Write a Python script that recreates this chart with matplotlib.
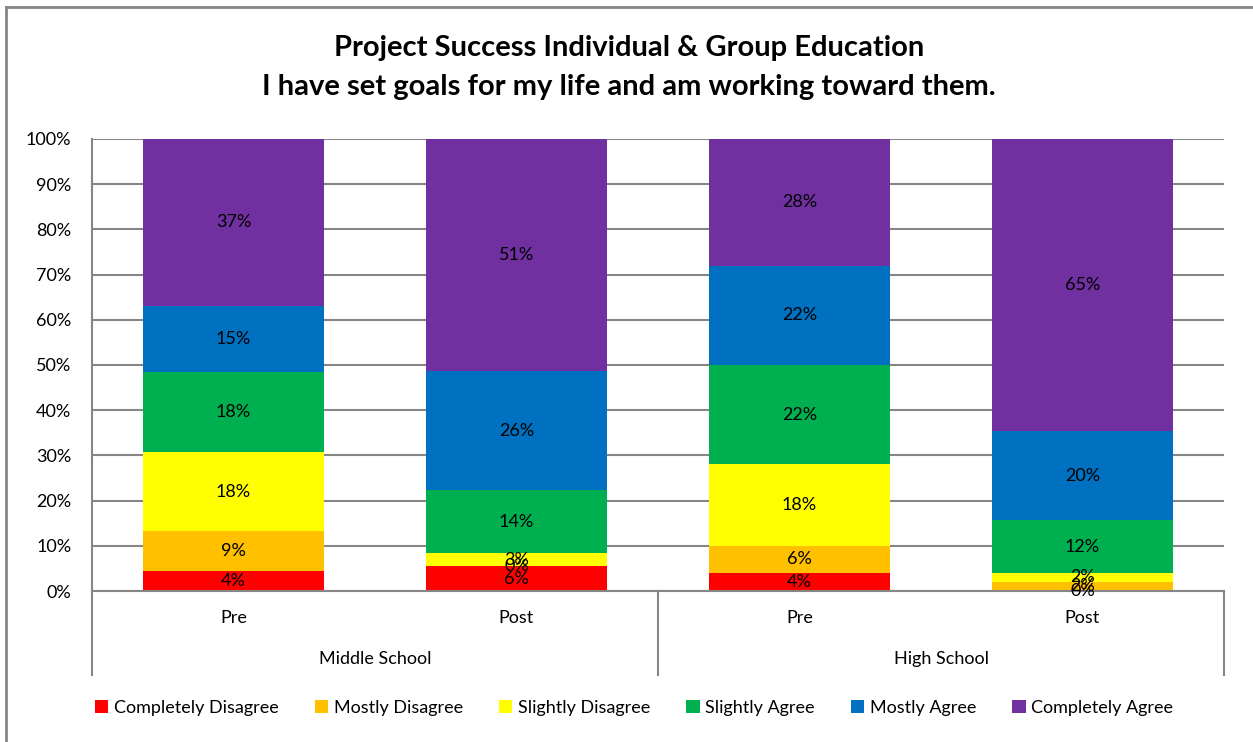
import matplotlib
matplotlib.use("Agg")
import matplotlib.pyplot as plt
from matplotlib.lines import Line2D
from matplotlib.transforms import blended_transform_factory

plt.rcParams['font.family'] = ['Lato', 'DejaVu Sans']

# Survey results (% of respondents) per group / time point
groups = ["Middle School", "High School"]
timepoints = ["Pre", "Post", "Pre", "Post"]
series_names = ["Completely Disagree", "Mostly Disagree", "Slightly Disagree",
                "Slightly Agree", "Mostly Agree", "Completely Agree"]
completely_disagree = [4.4, 5.5, 4.0, 0.0]
mostly_disagree = [8.8, 0.0, 6.0, 2.0]
slightly_disagree = [17.6, 2.9, 18.0, 2.0]
slightly_agree = [17.6, 13.9, 22.0, 11.6]
mostly_agree = [14.7, 26.4, 22.0, 19.8]
completely_agree = [36.9, 51.3, 28.0, 64.6]
colors = ["#FF0000", "#FFC000", "#FFFF00", "#00B050", "#0070C0", "#7030A0"]

series = [completely_disagree, mostly_disagree, slightly_disagree,
          slightly_agree, mostly_agree, completely_agree]

fig = plt.figure(figsize=(12.53, 7.42), dpi=100)
ax = fig.add_axes([92 / 1253, 1 - 591 / 742, (1224 - 92) / 1253, (591 - 139) / 742])

grid_color = "#868686"
fs = 13
x = list(range(len(timepoints)))
bottoms = [0.0] * len(x)
for name, vals, col in zip(series_names, series, colors):
    ax.bar(x, vals, bottom=bottoms, width=0.643, color=col, label=name,
           zorder=2, linewidth=0)
    for xi, b, v in zip(x, bottoms, vals):
        ax.text(xi, b + v / 2, f"{round(v)}%", ha="center", va="center",
                fontsize=fs, color="black", zorder=3)
    bottoms = [b + v for b, v in zip(bottoms, vals)]

ax.set_xlim(-0.5, len(x) - 0.5)
ax.set_ylim(0, 100)
ax.set_yticks(range(0, 101, 10))
ax.set_yticklabels([f"{t}%" for t in range(0, 101, 10)], fontsize=fs)
ax.yaxis.grid(True, color=grid_color, linewidth=1.5, zorder=0)
ax.set_axisbelow(True)
ax.tick_params(axis="y", length=0, pad=15)
ax.tick_params(axis="x", length=0, labelbottom=False)
for side in ["top", "right"]:
    ax.spines[side].set_visible(False)
for side in ["left", "bottom"]:
    ax.spines[side].set_color(grid_color)
    ax.spines[side].set_linewidth(1.5)

# Two-level category axis
trans = blended_transform_factory(ax.transData, fig.transFigure)
for xi, lab in zip(x, timepoints):
    ax.text(xi, 1 - 618 / 742, lab, transform=trans, ha="center", va="center",
            fontsize=fs)
for gi, g in enumerate(groups):
    ax.text(gi * 2 + 0.5, 1 - 659 / 742, g, transform=trans, ha="center",
            va="center", fontsize=fs)
for xs in [-0.5, 1.5, 3.5]:
    ax.add_line(Line2D([xs, xs], [1 - 591 / 742, 1 - 675 / 742], transform=trans,
                       color=grid_color, linewidth=1.5, clip_on=False))

fig.suptitle("Project Success Individual & Group Education\n"
             "I have set goals for my life and am working toward them.",
             x=0.502, y=1 - 35 / 742, va="top", fontsize=21, fontweight="bold",
             linespacing=1.62)

fig.legend(loc="center", bbox_to_anchor=(0.506, 1 - 708 / 742), ncol=6,
           frameon=False, fontsize=fs, handlelength=0.75, handleheight=0.75,
           handletextpad=0.3, columnspacing=2.0)

# Chart frame
fig.add_artist(Line2D([6 / 1253, 6 / 1253], [0, 1 - 7 / 742],
                      transform=fig.transFigure, color=grid_color, linewidth=2))
fig.add_artist(Line2D([6 / 1253, 1], [1 - 7 / 742, 1 - 7 / 742],
                      transform=fig.transFigure, color=grid_color, linewidth=2))

fig.savefig("out.png", dpi=100)
